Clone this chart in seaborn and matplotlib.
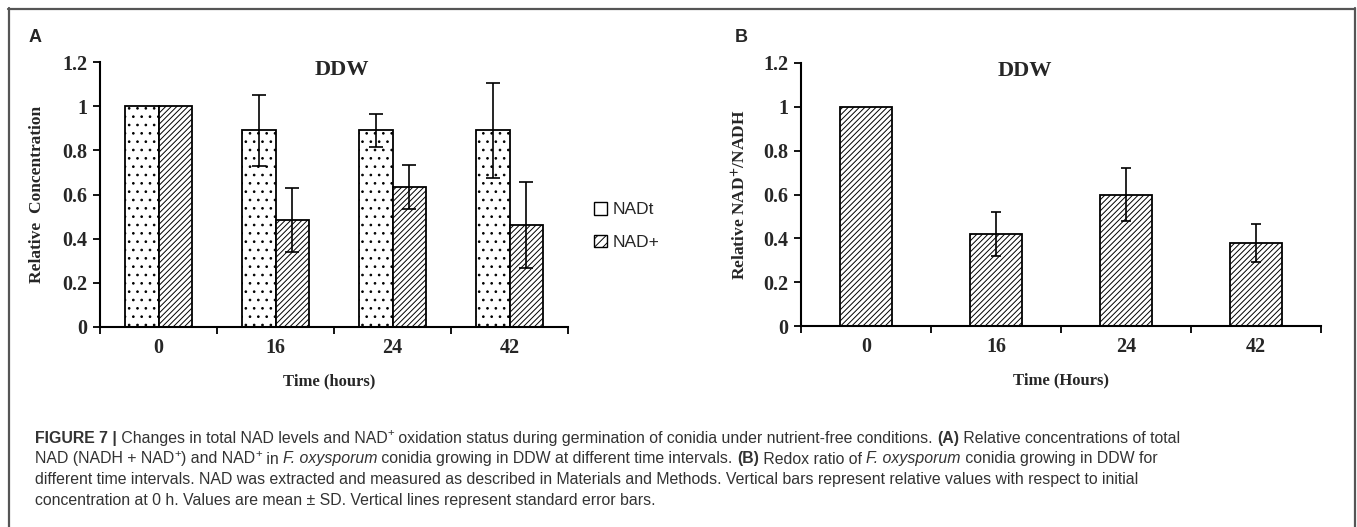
import numpy as np
import pandas as pd
import matplotlib
matplotlib.use("Agg")
import matplotlib.pyplot as plt
import seaborn as sns
from matplotlib.lines import Line2D
from matplotlib.patches import Patch
from matplotlib import font_manager

# ---------------- data ----------------
times = ["0", "16", "24", "42"]
series = ["NADt", "NAD+"]
nadt = [1.0, 0.89, 0.89, 0.89]
nadt_err = [0.0, 0.16, 0.075, 0.215]
nadp = [1.0, 0.485, 0.635, 0.46]
nadp_err = [0.0, 0.145, 0.10, 0.195]
ratio = [1.0, 0.42, 0.60, 0.38]
ratio_err = [0.0, 0.10, 0.12, 0.087]
yticks = [0, 0.2, 0.4, 0.6, 0.8, 1.0, 1.2]
ytick_labels = ["0", "0.2", "0.4", "0.6", "0.8", "1", "1.2"]

# ---------------- style ----------------
sns.set_style("ticks")
plt.rcParams["font.family"] = ["Liberation Serif", "DejaVu Serif"]
plt.rcParams["font.weight"] = "bold"
plt.rcParams["hatch.color"] = "black"
plt.rcParams["hatch.linewidth"] = 0.7

W, H = 1357, 527
fig = plt.figure(figsize=(W / 100, H / 100), dpi=100)
fig.patch.set_facecolor("white")

def px_rect(l, t, r, b):
    return [l / W, 1 - b / H, (r - l) / W, (b - t) / H]

axA = fig.add_axes(px_rect(100, 62, 568, 327))
axB = fig.add_axes(px_rect(801, 63, 1321, 326))

SERIF = ["Liberation Serif", "DejaVu Serif"]
SANS = ["Liberation Sans", "DejaVu Sans"]

# ---------------- panel A ----------------
dfA = pd.DataFrame({
    "time": times * 2,
    "series": [series[0]] * len(times) + [series[1]] * len(times),
    "value": nadt + nadp,
})
sns.barplot(data=dfA, x="time", y="value", hue="series", order=times,
            hue_order=series, palette=["white", "white"], saturation=1,
            edgecolor="black", linewidth=1.3, width=0.57, errorbar=None,
            legend=False, ax=axA)
hatches = ["..", "//////"]
for cont, h, err in zip(axA.containers, hatches, [nadt_err, nadp_err]):
    xs, ys, es = [], [], []
    for bar, e in zip(cont, err):
        bar.set_hatch(h)
        if e > 0:
            xs.append(bar.get_x() + bar.get_width() / 2)
            ys.append(bar.get_height())
            es.append(e)
    axA.errorbar(xs, ys, yerr=es, fmt="none", ecolor="black",
                 elinewidth=1.2, capsize=5, capthick=1.2, zorder=5)

# ---------------- panel B ----------------
dfB = pd.DataFrame({"time": times, "value": ratio})
sns.barplot(data=dfB, x="time", y="value", order=times, color="white",
            saturation=1, edgecolor="black", linewidth=1.3, width=0.4,
            errorbar=None, ax=axB)
xs, ys, es = [], [], []
for bar, e in zip(axB.containers[0], ratio_err):
    bar.set_hatch("//////")
    if e > 0:
        xs.append(bar.get_x() + bar.get_width() / 2)
        ys.append(bar.get_height())
        es.append(e)
axB.errorbar(xs, ys, yerr=es, fmt="none", ecolor="black",
             elinewidth=1.2, capsize=3.5, capthick=1.2, zorder=5)

# ---------------- axes formatting ----------------
for ax in (axA, axB):
    ax.set_ylim(0, 1.2)
    ax.set_xlim(-0.5, len(times) - 0.5)
    ax.set_yticks(yticks)
    ax.set_yticklabels(ytick_labels, fontsize=14.5, fontweight="bold",
                       family=SERIF)
    ax.set_xticks(range(len(times)))
    ax.set_xticklabels(times, fontsize=14.5, fontweight="bold", family=SERIF)
    ax.set_xticks(np.arange(-0.5, len(times), 1.0), minor=True)
    ax.tick_params(axis="x", which="major", length=0, pad=8)
    ax.tick_params(axis="x", which="minor", length=5, width=1.3,
                   direction="out", color="black")
    ax.tick_params(axis="y", length=5, width=1.3, direction="out",
                   color="black", pad=4)
    for s in ("top", "right"):
        ax.spines[s].set_visible(False)
    for s in ("left", "bottom"):
        ax.spines[s].set_color("black")
        ax.spines[s].set_linewidth(1.5)
    ax.set_facecolor("white")

axA.set_ylabel("Relative  Concentration", fontsize=12.5, fontweight="bold",
               family=SERIF)
axA.yaxis.set_label_coords(-0.118, 0.5)
axA.set_xlabel("Time (hours)", fontsize=12, fontweight="bold", family=SERIF)
axA.xaxis.set_label_coords(0.49, -0.175)
axA.text(0.517, 0.97, "DDW", transform=axA.transAxes, ha="center",
         va="center", fontsize=16, fontweight="bold", family=SERIF)

axB.set_ylabel(r"Relative NAD$^{\mathbf{+}}$/NADH", fontsize=12.5,
               fontweight="bold", family=SERIF, math_fontfamily="stix")
axB.yaxis.set_label_coords(-0.098, 0.5)
axB.set_xlabel("Time (Hours)", fontsize=12, fontweight="bold", family=SERIF)
axB.xaxis.set_label_coords(0.5, -0.175)
axB.text(0.43, 0.97, "DDW", transform=axB.transAxes, ha="center",
         va="center", fontsize=16, fontweight="bold", family=SERIF)

# legend
handles = [Patch(facecolor="white", edgecolor="black", linewidth=1.0),
           Patch(facecolor="white", edgecolor="black", linewidth=1.0,
                 hatch="////")]
fig.legend(handles=handles, labels=series, loc="center left",
           bbox_to_anchor=(594 / W, 1 - 226 / H), frameon=False,
           prop={"family": SANS, "size": 12.5, "weight": "normal"},
           handlelength=0.75, handleheight=0.75, labelspacing=1.0,
           handletextpad=0.35, borderpad=0, borderaxespad=0)

# panel letters
fig.text(35 / W, 1 - 37 / H, "A", ha="center", va="center", fontsize=13,
         fontweight="bold", family=SANS)
fig.text(741 / W, 1 - 37 / H, "B", ha="center", va="center", fontsize=13,
         fontweight="bold", family=SANS)

# border
bc = "#555555"
fig.add_artist(Line2D([8 / W, 1355 / W], [1 - 8.5 / H, 1 - 8.5 / H],
                      transform=fig.transFigure, color=bc, lw=1.6))
fig.add_artist(Line2D([8.5 / W, 8.5 / W], [1 - 8 / H, 0],
                      transform=fig.transFigure, color=bc, lw=1.6))
fig.add_artist(Line2D([1354.5 / W, 1354.5 / W], [1 - 8 / H, 0],
                      transform=fig.transFigure, color=bc, lw=1.6))

# ---------------- caption ----------------
names = {f.name for f in font_manager.fontManager.ttflist}
if "Liberation Sans Narrow" in names:
    CAP_FAM = ["Liberation Sans Narrow", "DejaVu Sans"]
else:
    CAP_FAM = ["Liberation Sans", "DejaVu Sans"]
cap_color = "#333333"
renderer = fig.canvas.get_renderer()

def text_width(txt, **kw):
    t1 = fig.text(0, 0, txt + "|", **kw)
    t2 = fig.text(0, 0, "|", **kw)
    w = t1.get_window_extent(renderer).width - t2.get_window_extent(renderer).width
    t1.remove(); t2.remove()
    return w

def style_kw(style, size):
    kw = dict(family=CAP_FAM, fontsize=size, color=cap_color,
              fontweight="normal", fontstyle="normal")
    if style == "b":
        kw["fontweight"] = "bold"
    elif style == "i":
        kw["fontstyle"] = "italic"
    elif style == "sup":
        kw["fontsize"] = size * 0.72
    return kw

caption = [
    [("FIGURE 7 |", "b"), (" Changes in total NAD levels and NAD", "n"), ("+", "sup"),
     (" oxidation status during germination of conidia under nutrient-free conditions. ", "n"),
     ("(A)", "b"), (" Relative concentrations of total", "n")],
    [("NAD (NADH + NAD", "n"), ("+", "sup"), (") and NAD", "n"), ("+", "sup"), (" in ", "n"),
     ("F. oxysporum", "i"), (" conidia growing in DDW at different time intervals. ", "n"),
     ("(B)", "b"), (" Redox ratio of ", "n"), ("F. oxysporum", "i"),
     (" conidia growing in DDW for", "n")],
    [("different time intervals. NAD was extracted and measured as described in Materials and Methods. Vertical bars represent relative values with respect to initial", "n")],
    [("concentration at 0 h. Values are mean \u00b1 SD. Vertical lines represent standard error bars.", "n")],
]

base = 11.5
w1 = sum(text_width(t, **style_kw(s, base)) for t, s in caption[0])
size = base * (1150.0 / w1)
size = min(size, 12.5)

baselines = [443, 463.5, 484, 504.5]
for line, yb in zip(caption, baselines):
    x = 35.0
    for txt, st in line:
        kw = style_kw(st, size)
        dy = size * 0.42 * 100 / 72 if st == "sup" else 0
        fig.text(x / W, 1 - (yb - dy) / H, txt, ha="left", va="baseline", **kw)
        x += text_width(txt, **kw)

fig.savefig("out.png", dpi=100, facecolor="white")
